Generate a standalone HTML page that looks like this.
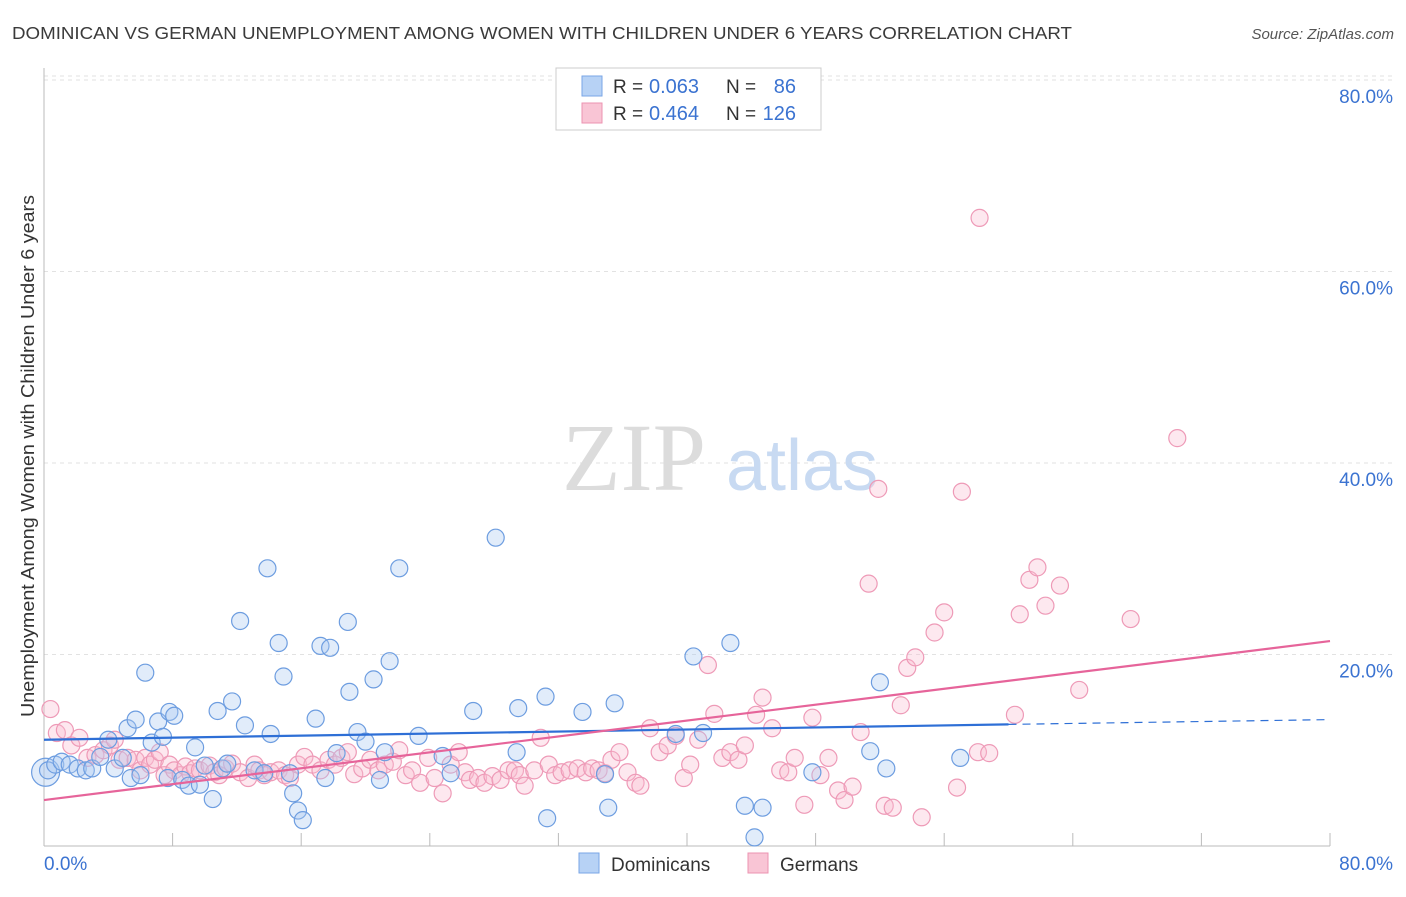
<!DOCTYPE html>
<html><head><meta charset="utf-8"><style>
body{margin:0;background:#fff;width:1406px;height:892px;overflow:hidden;font-family:"Liberation Sans",sans-serif}
</style></head><body>
<svg width="1406" height="892" xmlns="http://www.w3.org/2000/svg">
<text x="12" y="39" font-size="17.5" fill="#3a3a3a" textLength="1060" lengthAdjust="spacingAndGlyphs">DOMINICAN VS GERMAN UNEMPLOYMENT AMONG WOMEN WITH CHILDREN UNDER 6 YEARS CORRELATION CHART</text>
<text x="1394" y="39" font-size="15" fill="#555" font-style="italic" text-anchor="end">Source: ZipAtlas.com</text>
<g id="grid"></g>
<g><text x="634" y="490" font-size="96" font-family="Liberation Serif" fill="#dcdcdc" text-anchor="middle">ZIP</text><text x="802" y="490" font-size="72" fill="#c8daf2" text-anchor="middle">atlas</text></g>
<g id="axes"></g>
<g id="pts"></g>
<g id="trends"></g>
<text x="34" y="456" font-size="18" fill="#333" text-anchor="middle" textLength="522" lengthAdjust="spacingAndGlyphs" transform="rotate(-90 34 456)">Unemployment Among Women with Children Under 6 years</text>
<g>
<rect x="556" y="68" width="265" height="62" fill="#fff" stroke="#ccc"/>
<rect x="582" y="76" width="20" height="20" fill="#b7d2f5" stroke="#7aa6e6"/>
<rect x="582" y="103" width="20" height="20" fill="#f9c5d5" stroke="#ec93b1"/>
<text x="613" y="93" font-size="19" fill="#333">R =</text>
<text x="649" y="93" font-size="20" fill="#3b73d1">0.063</text>
<text x="726" y="93" font-size="19" fill="#333">N =</text>
<text x="796" y="93" font-size="20" fill="#3b73d1" text-anchor="end">86</text>
<text x="613" y="120" font-size="19" fill="#333">R =</text>
<text x="649" y="120" font-size="20" fill="#3b73d1">0.464</text>
<text x="726" y="120" font-size="19" fill="#333">N =</text>
<text x="796" y="120" font-size="20" fill="#3b73d1" text-anchor="end">126</text>
</g>
<g>
<rect x="579" y="853" width="20" height="20" fill="#b7d2f5" stroke="#7aa6e6"/>
<text x="611" y="871" font-size="19" fill="#333">Dominicans</text>
<rect x="748" y="853" width="20" height="20" fill="#f9c5d5" stroke="#ec93b1"/>
<text x="780" y="871" font-size="19" fill="#333">Germans</text>
</g>
</svg>
<script>
const yTicks=[20,40,60,80];
const yTickLabels=["20.0%","40.0%","60.0%","80.0%"];
const xTickLabels=["0.0%","80.0%"];
const blueX=[0.1,0.25,0.7,1.1,1.6,2.1,2.6,3.0,3.5,4.0,4.4,4.9,5.2,5.7,5.4,6.0,6.3,6.7,7.1,7.4,7.8,8.1,7.7,8.6,9.0,9.4,9.7,10.0,10.5,10.8,11.1,11.4,11.7,12.2,12.5,13.1,13.7,13.9,14.1,14.6,14.9,15.3,15.5,15.8,16.1,16.9,17.2,17.5,17.8,18.2,18.9,19.0,19.5,20.0,20.5,20.9,21.2,21.5,22.1,23.3,24.8,25.3,26.7,28.1,29.4,29.5,31.2,31.3,33.5,34.9,35.1,35.5,39.3,40.4,41.0,42.7,43.6,44.2,44.7,47.8,51.4,52.0,52.4,57.0];
const blueY=[7.7,7.9,8.5,8.8,8.5,8.1,7.9,8.1,9.3,11.1,8.1,9.2,12.3,13.2,7.1,7.4,18.1,10.8,13.0,11.4,14.0,13.6,7.1,6.9,6.3,10.3,6.4,8.4,4.9,14.1,8.1,8.6,15.1,23.5,12.6,7.9,7.6,29.0,11.7,21.2,17.7,7.6,5.5,3.7,2.7,13.3,20.9,7.1,20.7,9.7,23.4,16.1,11.9,10.9,17.4,6.9,9.8,19.3,29.0,11.5,9.4,7.6,14.1,32.2,9.8,14.4,15.6,2.9,14.0,7.5,4.0,14.9,11.7,19.8,11.8,21.2,4.2,0.9,4.0,7.7,9.9,17.1,8.1,9.2];
const pinkX=[0.4,0.8,1.3,1.7,2.2,2.7,3.2,3.7,4.1,4.4,4.7,5.2,5.7,6.0,6.3,6.6,6.9,7.2,7.5,7.8,8.1,8.5,8.8,9.1,9.4,9.7,10.3,10.6,10.9,11.3,11.7,12.2,12.7,13.1,13.4,13.7,14.1,14.6,15.0,15.3,15.8,16.2,16.7,17.2,17.7,18.1,18.5,18.9,19.3,19.8,20.3,20.8,21.2,21.7,22.1,22.5,22.9,23.4,23.9,24.3,24.8,25.3,25.8,26.2,26.5,27.0,27.4,27.9,28.4,28.9,29.3,29.6,29.9,30.5,30.9,31.4,31.8,32.2,32.7,33.2,33.7,34.1,34.5,34.9,35.3,35.8,36.3,36.8,37.1,37.7,38.3,38.8,39.3,39.8,40.2,40.7,41.3,41.7,42.2,42.7,43.2,43.6,44.3,44.7,45.3,45.8,46.3,46.7,47.3,47.8,48.3,48.8,49.4,49.8,50.3,50.8,51.3,51.9,52.3,52.8,53.3,53.7,54.2,54.6,55.4,56.0,56.8,57.1,58.1,58.2,58.8,60.4,60.7,61.3,61.8,62.3,63.2,64.4,67.6,70.5];
const pinkY=[14.3,11.8,12.1,10.5,11.3,9.2,9.5,10.0,10.5,11.1,9.0,9.2,9.0,7.9,9.2,8.5,9.0,9.8,7.4,8.5,7.9,7.4,8.3,7.6,8.1,7.9,8.4,7.7,7.4,8.1,8.6,7.7,7.1,8.5,7.9,7.4,7.7,7.9,7.4,7.1,8.5,9.3,8.5,7.9,9.0,8.5,9.2,9.8,7.5,8.1,9.0,7.9,8.5,8.8,10.0,7.4,7.9,6.6,9.2,7.1,5.5,8.5,9.8,7.7,6.9,7.1,6.6,7.3,6.9,7.9,7.9,7.4,6.3,7.9,11.3,8.5,7.4,7.7,7.9,8.1,7.7,8.1,7.9,7.6,9.0,9.8,7.7,6.6,6.3,12.3,9.8,10.5,11.5,7.1,8.5,11.1,18.9,13.8,9.2,9.8,9.0,10.5,13.7,15.5,12.3,7.9,7.7,9.2,4.3,13.4,7.4,9.2,5.8,4.8,6.2,11.9,27.4,37.3,4.2,4.0,14.7,18.6,19.7,3.0,22.3,24.4,6.1,37.0,9.8,65.6,9.7,13.7,24.2,27.8,29.1,25.1,27.2,16.3,23.7,42.6];
const blueTrend=[11.1,12.7,13.2]; // at x=0, 60, 80
const pinkTrend=[4.8,21.4]; // at x=0, 80
const X=v=>44+v*16.075, Y=v=>846-v*9.575;
const NS="http://www.w3.org/2000/svg";
function mk(t,a,p){const e=document.createElementNS(NS,t);for(const k in a)e.setAttribute(k,a[k]);p.appendChild(e);return e;}
const grid=document.getElementById('grid'),axes=document.getElementById('axes'),pts=document.getElementById('pts'),tr=document.getElementById('trends');
yTicks.forEach((t,i)=>{
 const l=mk('line',{x1:44,x2:1392,y1:Y(t),y2:Y(t),stroke:'#e2e2e2','stroke-dasharray':'4,4'},grid);
 
 
 const tx=mk('text',{x:1393,y:Y(t)+23,'font-size':19,fill:'#3b73d1','text-anchor':'end'},axes);
 tx.textContent=yTickLabels[i];
 
 
});
mk('line',{x1:44,x2:1392,y1:Y(80)-4,y2:Y(80)-4,stroke:'#e2e2e2','stroke-dasharray':'4,4'},grid);
mk('line',{x1:44,x2:44,y1:68,y2:846,stroke:'#bbb'},axes);
mk('line',{x1:44,x2:1330,y1:846,y2:846,stroke:'#bbb'},axes);
for(let i=0;i<=10;i++){mk('line',{x1:X(i*8),x2:X(i*8),y1:833,y2:846,stroke:'#bbb'},axes);}
[[0,'start'],[80,'end']].forEach((d,i)=>{const t=mk('text',{x:i?1393:44,y:870,'font-size':19,fill:'#3b73d1','text-anchor':d[1]},axes);t.textContent=xTickLabels[i];
 
 });
pinkX.forEach((x,i)=>{const c=mk('circle',{cx:X(x),cy:Y(pinkY[i]),r:8.5,fill:'rgba(248,188,208,0.35)',stroke:'#ee9ab7','stroke-width':1.2},pts);
 
 });
blueX.forEach((x,i)=>{const c=mk('circle',{cx:X(x),cy:Y(blueY[i]),r:i==0?14:8.5,fill:'rgba(170,200,240,0.35)',stroke:'#6d9de0','stroke-width':1.2},pts);
 
 });
let l=mk('line',{x1:X(0),y1:Y(blueTrend[0]),x2:X(60),y2:Y(blueTrend[1]),stroke:'#2e6fd6','stroke-width':2.2},tr);


l=mk('line',{x1:X(60),y1:Y(blueTrend[1]),x2:X(80),y2:Y(blueTrend[2]),stroke:'#2e6fd6','stroke-width':1.2,'stroke-dasharray':'8,6'},tr);


l=mk('line',{x1:X(0),y1:Y(pinkTrend[0]),x2:X(80),y2:Y(pinkTrend[1]),stroke:'#e6649a','stroke-width':2.2},tr);


</script>
</body></html>
